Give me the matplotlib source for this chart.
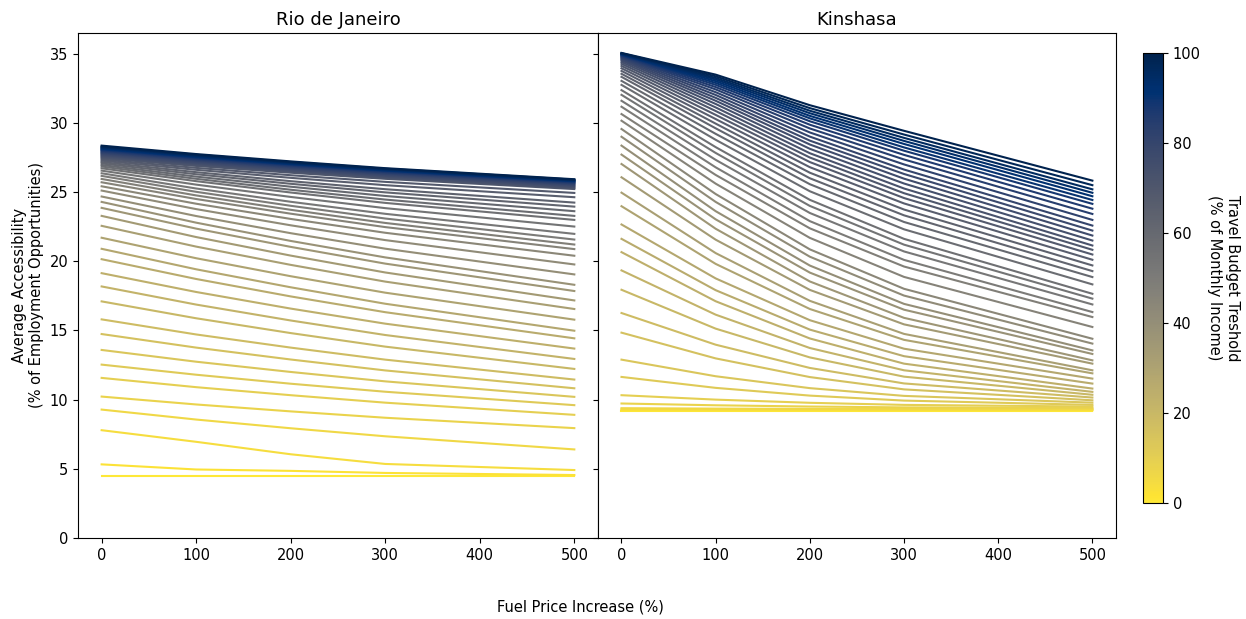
import matplotlib
matplotlib.use("Agg")
import matplotlib.pyplot as plt
from matplotlib import cm, colors

# fuel price increase (%) where accessibility was evaluated
fuel_increase = [0, 100, 200, 300, 500]

# travel budget thresholds (% of monthly income), one line each
budgets = list(range(0, 101, 2))

# average accessibility (% of employment opportunities), one row per budget
rio = [
    [4.47, 4.47, 4.47, 4.47, 4.47],
    [5.32, 4.95, 4.85, 4.70, 4.55],
    [7.79, 6.95, 6.05, 5.35, 4.91],
    [9.28, 8.56, 7.93, 7.35, 6.40],
    [10.22, 9.65, 9.15, 8.69, 7.94],
    [11.57, 10.90, 10.32, 9.78, 8.90],
    [12.53, 11.80, 11.15, 10.57, 9.60],
    [13.59, 12.74, 12.00, 11.32, 10.20],
    [14.74, 13.76, 12.90, 12.11, 10.82],
    [15.80, 14.71, 13.76, 12.89, 11.45],
    [17.10, 15.88, 14.81, 13.83, 12.22],
    [18.18, 16.87, 15.72, 14.67, 12.94],
    [19.14, 17.78, 16.58, 15.49, 13.69],
    [20.15, 18.72, 17.46, 16.32, 14.43],
    [20.90, 19.42, 18.12, 16.93, 14.98],
    [21.70, 20.22, 18.92, 17.73, 15.78],
    [22.56, 21.06, 19.74, 18.53, 16.55],
    [23.28, 21.75, 20.41, 19.19, 17.17],
    [23.86, 22.36, 21.04, 19.83, 17.85],
    [24.29, 22.79, 21.47, 20.28, 18.30],
    [24.68, 23.27, 22.03, 20.91, 19.05],
    [25.11, 23.77, 22.60, 21.53, 19.77],
    [25.42, 24.16, 23.06, 22.06, 20.40],
    [25.71, 24.50, 23.44, 22.47, 20.88],
    [25.95, 24.76, 23.72, 22.77, 21.21],
    [26.17, 25.02, 24.01, 23.09, 21.57],
    [26.36, 25.26, 24.30, 23.43, 21.98],
    [26.55, 25.54, 24.65, 23.84, 22.51],
    [26.72, 25.79, 24.97, 24.22, 22.99],
    [26.85, 25.96, 25.17, 24.46, 23.28],
    [26.96, 26.12, 25.39, 24.72, 23.62],
    [27.07, 26.29, 25.60, 24.98, 23.95],
    [27.17, 26.44, 25.79, 25.21, 24.24],
    [27.27, 26.61, 26.03, 25.50, 24.63],
    [27.36, 26.75, 26.22, 25.74, 24.94],
    [27.45, 26.89, 26.40, 25.96, 25.22],
    [27.53, 26.97, 26.48, 26.04, 25.30],
    [27.61, 27.05, 26.56, 26.11, 25.37],
    [27.68, 27.12, 26.63, 26.18, 25.44],
    [27.75, 27.19, 26.69, 26.24, 25.50],
    [27.82, 27.26, 26.76, 26.31, 25.56],
    [27.88, 27.31, 26.81, 26.36, 25.61],
    [27.94, 27.37, 26.87, 26.42, 25.66],
    [28.00, 27.42, 26.92, 26.46, 25.70],
    [28.05, 27.47, 26.97, 26.51, 25.74],
    [28.10, 27.52, 27.01, 26.55, 25.78],
    [28.15, 27.56, 27.05, 26.58, 25.81],
    [28.20, 27.61, 27.09, 26.62, 25.84],
    [28.25, 27.65, 27.13, 26.66, 25.87],
    [28.30, 27.70, 27.17, 26.69, 25.90],
    [28.36, 27.75, 27.22, 26.73, 25.93],
]

kinshasa = [
    [9.20, 9.20, 9.20, 9.20, 9.20],
    [9.24, 9.23, 9.23, 9.23, 9.23],
    [9.30, 9.28, 9.27, 9.27, 9.27],
    [9.38, 9.35, 9.33, 9.32, 9.32],
    [9.72, 9.59, 9.50, 9.44, 9.40],
    [10.32, 10.00, 9.77, 9.62, 9.50],
    [11.64, 10.85, 10.29, 9.93, 9.62],
    [12.89, 11.69, 10.83, 10.27, 9.78],
    [14.84, 12.98, 11.63, 10.74, 9.95],
    [16.26, 13.97, 12.29, 11.17, 10.15],
    [17.94, 15.13, 13.05, 11.66, 10.35],
    [19.34, 16.14, 13.73, 12.12, 10.56],
    [20.66, 17.11, 14.42, 12.60, 10.80],
    [21.62, 17.91, 15.06, 13.14, 11.16],
    [22.66, 18.76, 15.74, 13.68, 11.52],
    [23.98, 19.81, 16.55, 14.32, 11.90],
    [24.96, 20.59, 17.14, 14.75, 12.12],
    [26.07, 21.56, 17.93, 15.44, 12.60],
    [27.03, 22.35, 18.54, 15.91, 12.84],
    [27.71, 23.03, 19.18, 16.50, 13.30],
    [28.36, 23.62, 19.69, 16.92, 13.56],
    [29.00, 24.29, 20.33, 17.52, 14.05],
    [29.56, 24.86, 20.86, 18.01, 14.40],
    [30.16, 25.61, 21.69, 18.87, 15.25],
    [30.64, 26.24, 22.38, 19.62, 15.97],
    [31.17, 26.79, 22.90, 20.10, 16.33],
    [31.60, 27.33, 23.49, 20.71, 16.88],
    [32.03, 27.83, 24.00, 21.20, 17.30],
    [32.37, 28.25, 24.44, 21.62, 17.65],
    [32.75, 28.78, 25.06, 22.31, 18.33],
    [33.04, 29.21, 25.57, 22.84, 18.86],
    [33.33, 29.61, 26.00, 23.32, 19.29],
    [33.55, 29.95, 26.40, 23.74, 19.70],
    [33.76, 30.28, 26.80, 24.18, 20.11],
    [33.95, 30.58, 27.17, 24.57, 20.49],
    [34.12, 30.86, 27.50, 24.92, 20.83],
    [34.27, 31.12, 27.81, 25.26, 21.14],
    [34.40, 31.37, 28.13, 25.62, 21.50],
    [34.51, 31.60, 28.44, 25.97, 21.86],
    [34.60, 31.81, 28.72, 26.31, 22.22],
    [34.68, 32.02, 29.01, 26.63, 22.58],
    [34.75, 32.22, 29.31, 27.00, 22.99],
    [34.81, 32.42, 29.60, 27.36, 23.42],
    [34.86, 32.59, 29.87, 27.69, 23.80],
    [34.90, 32.75, 30.12, 27.99, 24.15],
    [34.94, 32.89, 30.33, 28.23, 24.43],
    [34.97, 33.02, 30.51, 28.48, 24.70],
    [35.00, 33.14, 30.70, 28.70, 24.95],
    [35.02, 33.25, 30.88, 28.92, 25.20],
    [35.04, 33.37, 31.07, 29.16, 25.50],
    [35.06, 33.49, 31.28, 29.43, 25.83],
]

cities = ["Rio de Janeiro", "Kinshasa"]
city_data = [rio, kinshasa]

cmap = plt.get_cmap("cividis_r")
norm = colors.Normalize(vmin=0, vmax=100)

fig = plt.figure(figsize=(12.46, 6.19), dpi=100)
ax1 = fig.add_axes([0.0626, 0.1309, 0.4173, 0.8158])
ax2 = fig.add_axes([0.4799, 0.1309, 0.4157, 0.8158], sharey=ax1)

for ax, name, data in zip([ax1, ax2], cities, city_data):
    for b, row in zip(budgets, data):
        ax.plot(fuel_increase, row, color=cmap(norm(b)), linewidth=1.5)
    ax.set_title(name, fontsize=13)
    ax.set_xticks([0, 100, 200, 300, 400, 500])
    ax.tick_params(labelsize=10.5)

ax1.set_ylim(0, 36.5)
ax1.set_yticks([0, 5, 10, 15, 20, 25, 30, 35])
ax2.tick_params(labelleft=False)
ax1.set_ylabel("Average Accessibility\n(% of Employment Opportunities)", fontsize=10.5)

fig.text(0.466, 0.02, "Fuel Price Increase (%)", ha="center", va="center", fontsize=10.5)

cax = fig.add_axes([0.9173, 0.1874, 0.016, 0.727])
sm = cm.ScalarMappable(norm=norm, cmap=cmap)
cb = fig.colorbar(sm, cax=cax)
cb.set_ticks([0, 20, 40, 60, 80, 100])
cb.ax.tick_params(labelsize=10.5)
cb.set_label("Travel Budget Treshold\n(% of Monthly Income)", rotation=270, labelpad=28, fontsize=10.5)

fig.savefig("out.png", dpi=100)
